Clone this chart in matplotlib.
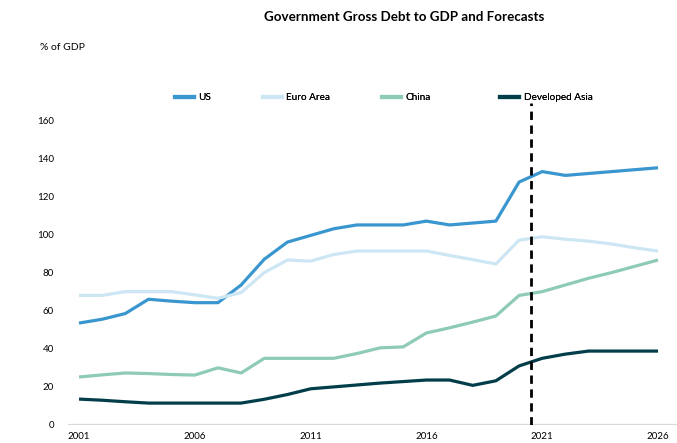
import matplotlib.pyplot as plt
from matplotlib.lines import Line2D

plt.rcParams['font.family'] = ['Lato', 'DejaVu Sans']

years = list(range(2001, 2027))
us = [53.5, 55.5, 58.5, 66, 65, 64.2, 64.2, 73.5, 87, 96, 99.5, 103, 105,
      105, 105, 107, 105, 106, 107, 127.5, 133, 131, 132, 133, 134, 135]
euro_area = [68, 68, 70, 70, 70, 68.3, 66.5, 69.5, 80, 86.6, 86, 89.5, 91.3,
             91.3, 91.3, 91.3, 89, 86.8, 84.5, 97, 98.8, 97.5, 96.5, 95, 93, 91.3]
china = [25.2, 26.3, 27.3, 27, 26.5, 26.2, 30, 27.3, 35, 35, 35, 35, 37.5,
         40.5, 41, 48.3, 51, 54, 57.2, 68, 70, 73.5, 77, 80, 83.3, 86.6]
dev_asia = [13.6, 13, 12.2, 11.5, 11.5, 11.5, 11.5, 11.5, 13.5, 16, 19, 20, 21,
            22, 22.8, 23.6, 23.6, 20.8, 23.2, 31, 35, 37.2, 38.8, 38.8, 38.8, 38.8]
forecast_start = 2020.5

series = [
    ("US", us, "#3a96cf"),
    ("Euro Area", euro_area, "#cde6f4"),
    ("China", china, "#8ecbb4"),
    ("Developed Asia", dev_asia, "#023d4a"),
]

fig = plt.figure(figsize=(6.77, 4.43), dpi=100)
ax = fig.add_axes([68 / 677, 18 / 443, 609 / 677, 322 / 443])

for name, vals, color in series:
    ax.plot(years, vals, color=color, lw=2.3, solid_capstyle="butt", label=name)

ax.axvline(forecast_start, color="black", lw=2, linestyle=(0, (3, 2)))
ax.axhline(0, color="#d9d9d9", lw=1.6, zorder=0)

ax.set_xlim(2000.525, 2026.82)
ax.set_ylim(0, 169)
ax.set_xticks([2001, 2006, 2011, 2016, 2021, 2026])
ax.set_yticks(range(0, 161, 20))
ax.tick_params(axis="both", length=0, labelsize=7, colors="black")
ax.tick_params(axis="x", pad=5)
ax.tick_params(axis="y", pad=10)
for s in ax.spines.values():
    s.set_visible(False)

fig.text(404 / 677, 1 - 17 / 443, "Government Gross Debt to GDP and Forecasts",
         ha="center", va="center", fontsize=9.6, fontweight="bold")
fig.text(40 / 677, 1 - 48 / 443, "% of GDP", ha="left", va="center", fontsize=7.5)

# legend entries spread across the top, one legend per series
legend_x = [175, 263, 382, 500]
for (name, vals, color), lx in zip(series, legend_x):
    h = Line2D([], [], color=color, lw=3)
    leg = fig.legend([h], [name], loc="center left",
                     bbox_to_anchor=(lx / 677, 1 - 98 / 443),
                     frameon=False, fontsize=7.2, handlelength=1.9,
                     handletextpad=0.45, borderaxespad=0, borderpad=0)
    fig.add_artist(leg)

fig.savefig("out.png", dpi=100)
